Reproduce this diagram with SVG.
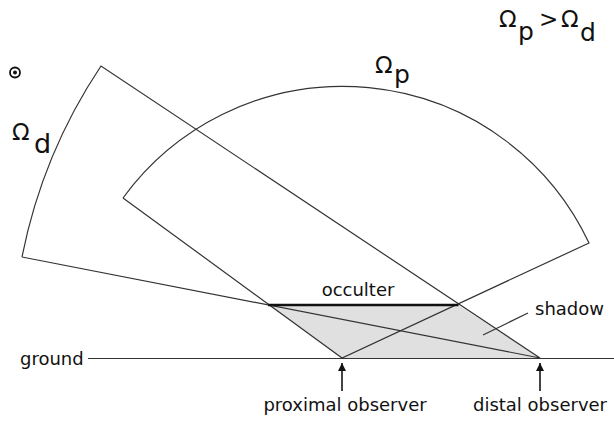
<svg xmlns="http://www.w3.org/2000/svg" width="614" height="421" viewBox="0 0 614 421">
<defs>
<style>
.ln{fill:none;stroke:#333;stroke-width:1.2}
.t{font-family:"DejaVu Sans","Liberation Sans",sans-serif;font-size:18px;fill:#111}
.om{font-family:"DejaVu Sans","Liberation Sans",sans-serif;font-size:23px;fill:#111}
</style>
<marker id="ah" viewBox="0 0 10 10" refX="10" refY="5" markerWidth="8" markerHeight="10" markerUnits="userSpaceOnUse" orient="auto">
<path d="M0,0 L10,5 L0,10 z" fill="#111"/>
</marker>
</defs>
<rect width="614" height="421" fill="#fff"/>
<g id="shadow">
<polygon points="268,305 458,305 540,358 342,358" fill="#e0e0e0"/>
</g>
<g id="connectors">
<g id="distal-sector">
<path class="ln" d="M22,257 L540,358 L101,66 A527.5,527.5 0 0 0 22,257"/>
</g>
<g id="proximal-sector">
<path class="ln" d="M123,198 L342,358 L589,243 A272,272 0 0 0 123,198"/>
</g>
<line class="ln" x1="88" y1="358.5" x2="614" y2="358.5"/>
<line class="ln" x1="528" y1="313" x2="483" y2="335"/>
<line x1="342" y1="391" x2="342" y2="363" stroke="#444" stroke-width="2" marker-end="url(#ah)"/>
<line x1="540" y1="391" x2="540" y2="363" stroke="#444" stroke-width="2" marker-end="url(#ah)"/>
</g>
<g id="occulter">
<line x1="268" y1="305" x2="458.5" y2="305" stroke="#111" stroke-width="2.6"/>
<text class="t" x="358" y="296" text-anchor="middle">occulter</text>
</g>
<g id="shadow-label"><text class="t" x="535" y="315">shadow</text></g>
<g id="ground-label"><text class="t" x="20" y="365">ground</text></g>
<g id="proximal-observer"><text class="t" x="345" y="411" text-anchor="middle">proximal observer</text></g>
<g id="distal-observer"><text class="t" x="540" y="411" text-anchor="middle">distal observer</text></g>
<g id="omega-p"><text class="om" x="375" y="73">Ω<tspan x="394" y="83" font-size="25">p</tspan></text></g>
<g id="omega-d"><text class="om" font-size="25" x="12" y="140">Ω<tspan x="34" y="153" font-size="27">d</tspan></text></g>
<g id="relation"><text class="om" x="499" y="27">Ω<tspan x="518" y="40" font-size="25">p</tspan><tspan x="539" y="27">&gt;</tspan><tspan x="561" y="27">Ω</tspan><tspan x="580" y="41" font-size="25">d</tspan></text></g>
<g id="odot">
<circle cx="15" cy="72.5" r="5" fill="none" stroke="#111" stroke-width="1.8"/>
<circle cx="15" cy="72.5" r="2" fill="#111"/>
</g>
</svg>
